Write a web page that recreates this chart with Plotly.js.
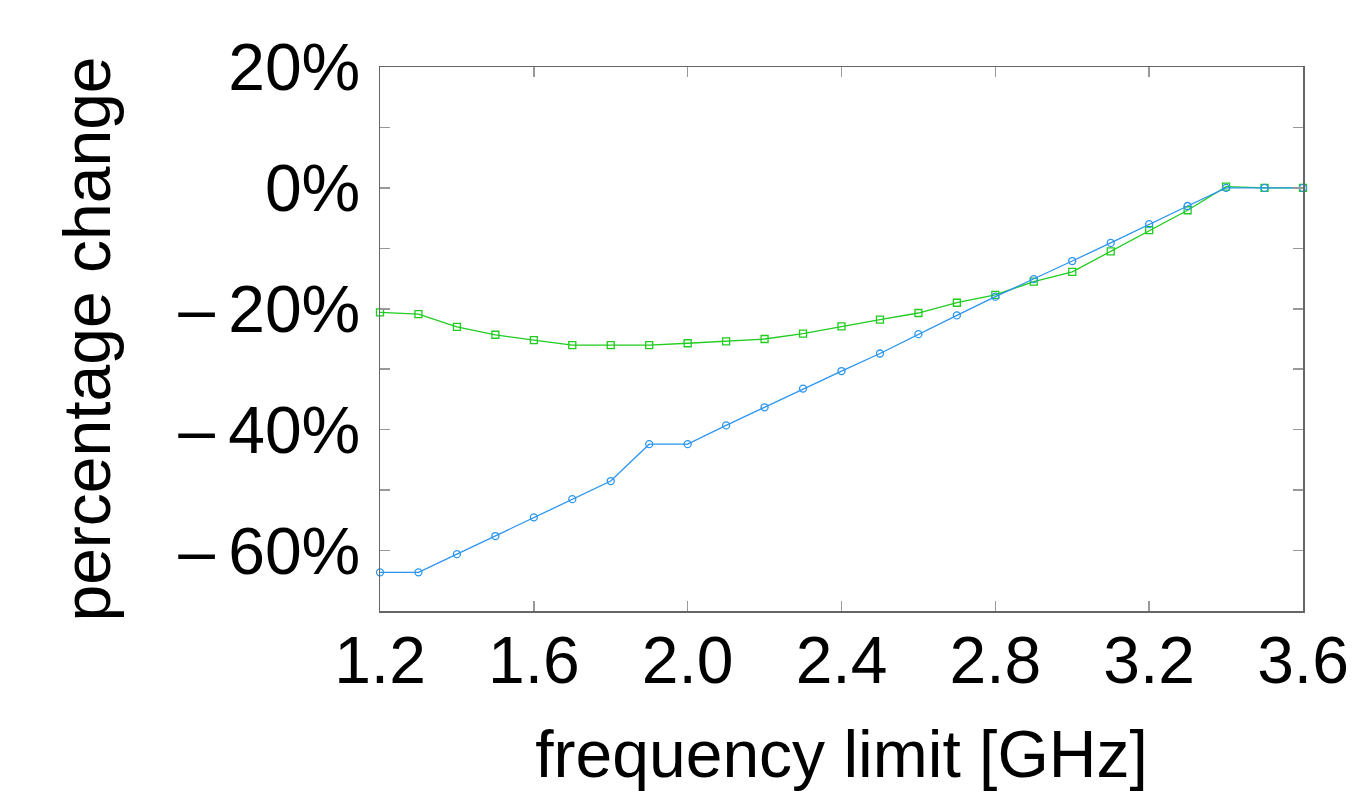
<!DOCTYPE html>
<html>
<head>
<meta charset="utf-8">
<script src="https://cdn.plot.ly/plotly-3.0.1.min.js"></script>
<style>html,body{margin:0;padding:0;background:#fff;}#chart{width:1352px;height:791px;}</style>
</head>
<body>
<div id="chart"></div>
<script>
const freq = [1.2,1.3,1.4,1.5,1.6,1.7,1.8,1.9,2.0,2.1,2.2,2.3,2.4,2.5,2.6,2.7,2.8,2.9,3.0,3.1,3.2,3.3,3.4,3.5,3.6];
const seriesBlue = [-63.6,-63.6,-60.6,-57.6,-54.5,-51.5,-48.5,-42.4,-42.4,-39.3,-36.3,-33.2,-30.3,-27.4,-24.2,-21.1,-18.0,-15.1,-12.1,-9.1,-6.0,-3.0,0.0,0.0,0.0];
const seriesGreen = [-20.6,-20.9,-23.0,-24.3,-25.2,-26.0,-26.0,-26.0,-25.7,-25.4,-25.0,-24.1,-22.9,-21.8,-20.7,-19.0,-17.7,-15.5,-13.9,-10.5,-7.0,-3.7,0.2,0.0,0.0];
const xTickVals = [1.2,1.6,2.0,2.4,2.8,3.2,3.6];
const xTickText = ['1.2','1.6','2.0','2.4','2.8','3.2','3.6'];
const yTickVals = [20,10,0,-10,-20,-30,-40,-50,-60];
const yTickText = ['20%','','0%','','\u2013 20%'.replace(' ', '\u2009'),'','\u2013\u200940%','','\u2013\u200960%'];

const font = 'Liberation Sans, Arial, Helvetica, sans-serif';
const fs = 66;

const traces = [
  {
    x: freq, y: seriesGreen, type: 'scatter', mode: 'lines+markers',
    line: {color: '#1fcc1f', width: 1.3},
    marker: {symbol: 'square-open', size: 7, color: '#1fcc1f', line: {width: 1.3}},
    cliponaxis: false, showlegend: false
  },
  {
    x: freq, y: seriesBlue, type: 'scatter', mode: 'lines+markers',
    line: {color: '#2b95f0', width: 1.3},
    marker: {symbol: 'circle-open', size: 7, color: '#2b95f0', line: {width: 1.3}},
    cliponaxis: false, showlegend: false
  }
];

const layout = {
  width: 1352, height: 791,
  margin: {l: 380, r: 49, t: 67, b: 180},
  paper_bgcolor: '#fff', plot_bgcolor: '#fff',
  font: {family: font, size: fs, color: '#000'},
  xaxis: {
    range: [1.2, 3.6], tickvals: xTickVals, ticktext: xTickText,
    ticks: 'inside', ticklen: 10, tickcolor: '#999', tickwidth: 1.5,
    showline: true, linecolor: '#666', linewidth: 1.5, mirror: 'ticks',
    showgrid: false, zeroline: false,
    tickfont: {family: font, size: fs, color: '#000'},
    ticklabelstandoff: -9,
    title: {text: 'frequency limit [GHz]', font: {family: font, size: fs, color: '#000'}, standoff: 35}
  },
  yaxis: {
    range: [-70, 20], tickvals: yTickVals, ticktext: yTickText,
    ticks: 'inside', ticklen: 10, tickcolor: '#999', tickwidth: 1.5,
    showline: true, linecolor: '#666', linewidth: 1.5, mirror: 'ticks',
    showgrid: false, zeroline: false,
    tickfont: {family: font, size: fs, color: '#000'},
    ticklabelstandoff: 5,
    title: {text: 'percentage change', font: {family: font, size: fs, color: '#000'}, standoff: 46}
  }
};

Plotly.newPlot('chart', traces, layout, {displayModeBar: false, staticPlot: true});
</script>
</body>
</html>
